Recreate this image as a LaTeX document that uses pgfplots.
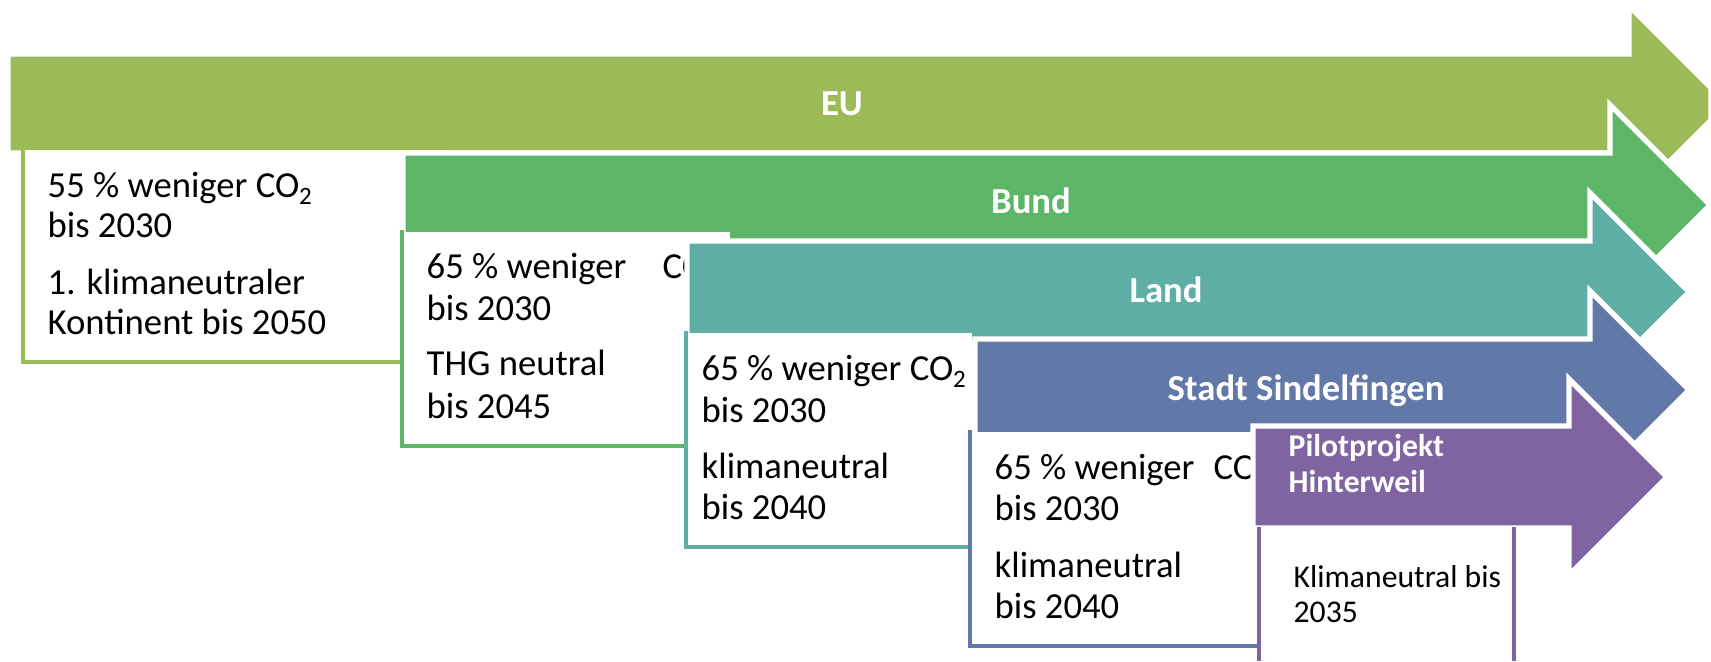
\documentclass[border=0pt]{standalone}
\usepackage{pgfplots}
\pgfplotsset{compat=1.18}
\usepackage{fontspec}
\setmainfont{Carlito}
\definecolor{cEU}{HTML}{9BBB59}
\definecolor{cBund}{HTML}{5DB567}
\definecolor{cLand}{HTML}{5EAEA5}
\definecolor{cStadt}{HTML}{6178A8}
\definecolor{cPilot}{HTML}{8064A2}
\newcommand{\sub}[1]{\raisebox{-0.45ex}{\fontsize{7.5pt}{8pt}\selectfont #1}}
\tikzset{
  txt/.style={anchor=base west, inner sep=0pt, font=\fontsize{11pt}{12pt}\selectfont, text=black},
  stxt/.style={anchor=base west, inner sep=0pt, font=\fontsize{9.5pt}{11pt}\selectfont, text=black},
  ttl/.style={anchor=base, inner sep=0pt, font=\fontsize{11pt}{12pt}\selectfont\bfseries, text=white},
  pttl/.style={anchor=base west, inner sep=0pt, font=\fontsize{9.5pt}{11pt}\selectfont\bfseries, text=white},
  arr/.style={draw=white, line width=1.6pt},
  brd/.style={line width=1.4pt},
}
\begin{document}
\begin{tikzpicture}
\begin{axis}[hide axis, scale only axis, width=513.3pt, height=198.3pt,
  xmin=0, xmax=1711, ymin=0, ymax=661, y dir=reverse, clip=true]
\addplot[draw=none] coordinates {(0,0) (1711,661)};
% EU
\addplot[arr, fill=cEU] coordinates {(8,54) (1629,54) (1629,6) (1711,88) (1711,120) (1629,202) (1629,153) (8,153)} -- cycle;
\addplot[fill=white, draw=none] coordinates {(23,150) (447,150) (447,362) (23,362)} -- cycle;
\addplot[brd, cEU] coordinates {(23,150) (23,362) (447,362)};
\node[ttl] at (axis cs:842,115) {EU};
\node[txt] at (axis cs:47,197) {55 \% weniger CO\sub{2}};
\node[txt] at (axis cs:47,237) {bis 2030};
\node[txt] at (axis cs:47,294) {1. klimaneutraler};
\node[txt] at (axis cs:47,334) {Kontinent bis 2050};
% Bund
\addplot[arr, fill=cBund] coordinates {(403,153) (1610,153) (1610,105) (1710,205) (1610,305) (1610,257) (403,257)} -- cycle;
\addplot[fill=white, draw=none] coordinates {(402,232) (730,232) (730,446) (402,446)} -- cycle;
\addplot[brd, cBund] coordinates {(402,230) (402,446) (730,446)};
\node[ttl] at (axis cs:1031,213) {Bund};
\node[txt] at (axis cs:426,278) {65 \% weniger};
\node[txt] at (axis cs:662,278) {CO\sub{2}};
\node[txt] at (axis cs:426,320) {bis 2030};
\node[txt] at (axis cs:426,375) {THG neutral};
\node[txt] at (axis cs:426,418) {bis 2045};
% Land
\addplot[arr, fill=cLand] coordinates {(687,241) (1590,241) (1590,193) (1689,292) (1590,391) (1590,343) (687,343)} -- cycle;
\addplot[fill=white, draw=none] coordinates {(686,333) (972,333) (972,547) (686,547)} -- cycle;
\addplot[brd, cLand] coordinates {(686,331) (686,547) (972,547)};
\node[ttl] at (axis cs:1166,302) {Land};
\node[txt] at (axis cs:701,380) {65 \% weniger CO\sub{2}};
\node[txt] at (axis cs:701,422) {bis 2030};
\node[txt] at (axis cs:701,478) {klimaneutral};
\node[txt] at (axis cs:701,519) {bis 2040};
% Stadt
\addplot[arr, fill=cStadt] coordinates {(975,339) (1590,339) (1590,291) (1689,390) (1590,489) (1590,441) (975,441)} -- cycle;
\addplot[fill=white, draw=none] coordinates {(970,432) (1262,432) (1262,646) (970,646)} -- cycle;
\addplot[brd, cStadt] coordinates {(970,430) (970,646) (1262,646)};
\node[ttl] at (axis cs:1306,400) {Stadt Sindelfingen};
\node[txt] at (axis cs:994,479) {65 \% weniger};
\node[txt] at (axis cs:1213,479) {CO\sub{2}};
\node[txt] at (axis cs:994,520) {bis 2030};
\node[txt] at (axis cs:994,577) {klimaneutral};
\node[txt] at (axis cs:994,618) {bis 2040};
% Pilot
\addplot[arr, fill=cPilot] coordinates {(1253,426) (1569,426) (1569,379) (1667,477) (1569,575) (1569,528) (1253,528)} -- cycle;
\addplot[fill=white, draw=none] coordinates {(1259,528) (1514,528) (1514,661) (1259,661)} -- cycle;
\addplot[brd, cPilot] coordinates {(1259,527) (1259,661)};
\addplot[brd, cPilot] coordinates {(1514,527) (1514,661)};
\node[pttl] at (axis cs:1288,456) {Pilotprojekt};
\node[pttl] at (axis cs:1288,492) {Hinterweil};
\node[stxt] at (axis cs:1293,587) {Klimaneutral bis};
\node[stxt] at (axis cs:1293,622) {2035};
\end{axis}
\end{tikzpicture}
\end{document}
